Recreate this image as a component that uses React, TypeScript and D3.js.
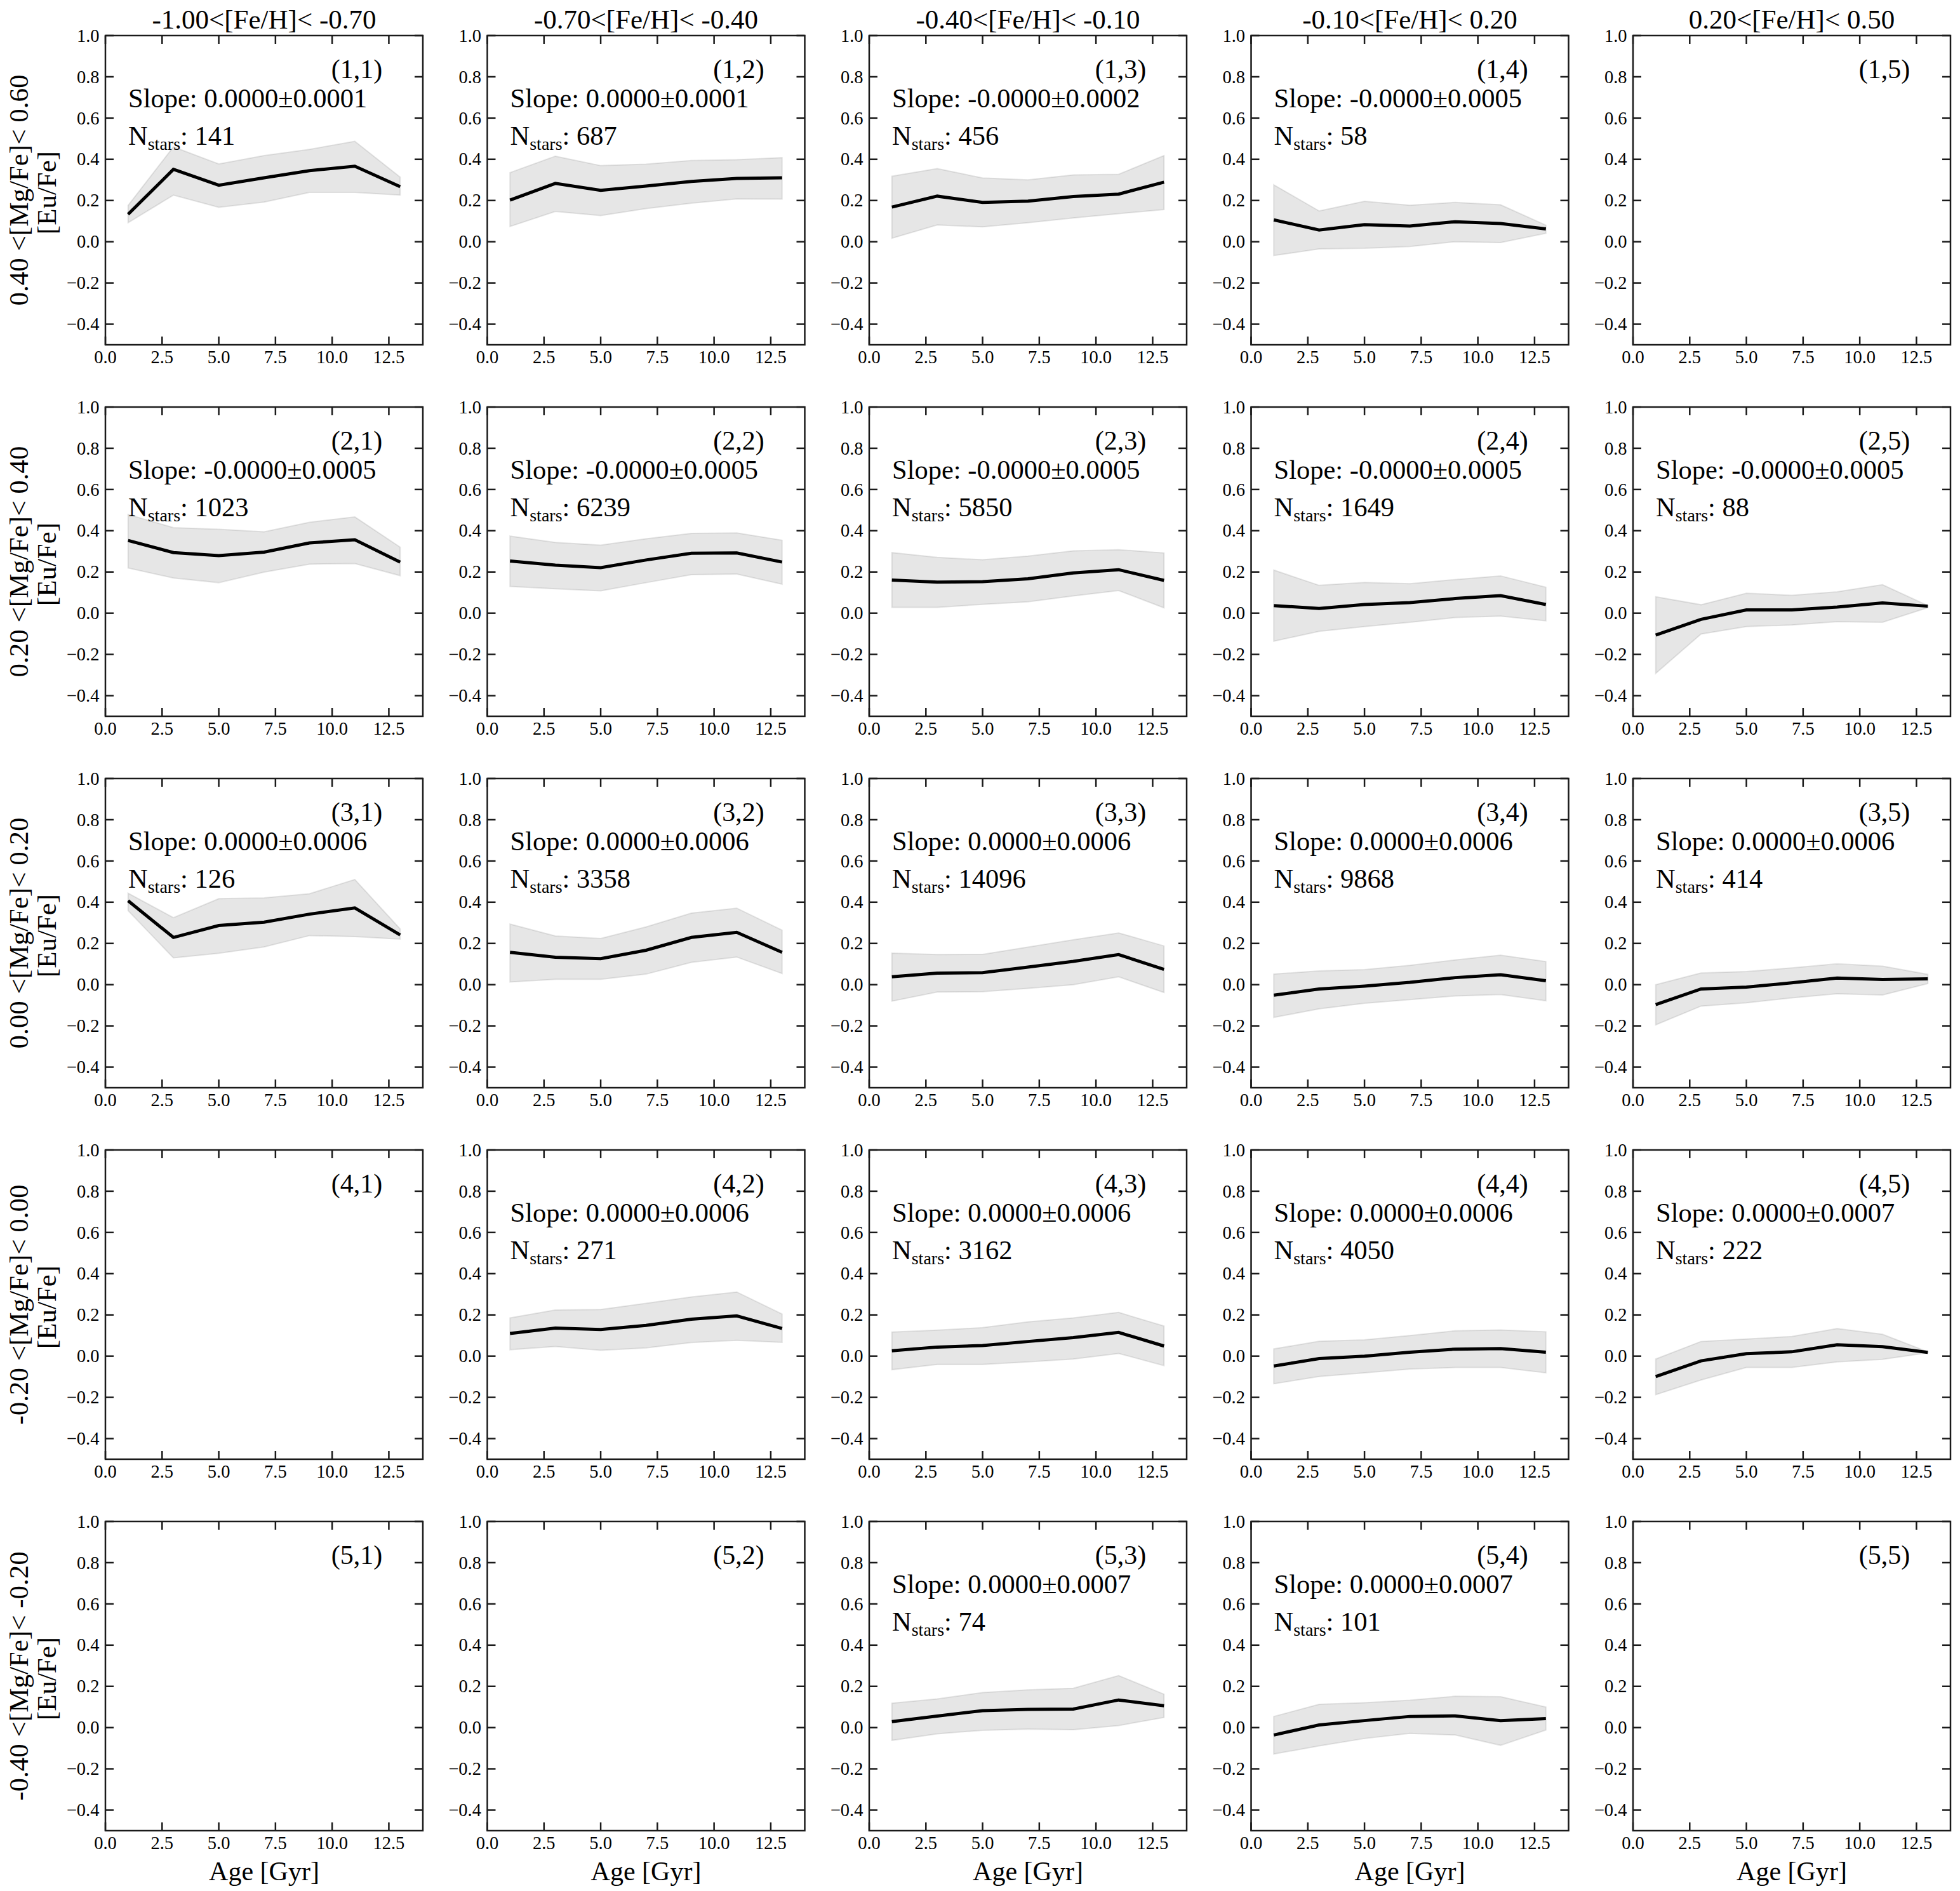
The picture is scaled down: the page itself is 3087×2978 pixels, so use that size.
import React from "react";
import * as d3 from "d3";

// bin centres (Gyr)
const ages = [1, 3, 5, 7, 9, 11, 13];
const xTicks = [0, 2.5, 5, 7.5, 10, 12.5];
const yTicks = [-0.4, -0.2, 0, 0.2, 0.4, 0.6, 0.8, 1.0];

const feTitles = [
  "-1.00<[Fe/H]< -0.70",
  "-0.70<[Fe/H]< -0.40",
  "-0.40<[Fe/H]< -0.10",
  "-0.10<[Fe/H]< 0.20",
  "0.20<[Fe/H]< 0.50",
];
const mgLabels = [
  "0.40 <[Mg/Fe]< 0.60",
  "0.20 <[Mg/Fe]< 0.40",
  "0.00 <[Mg/Fe]< 0.20",
  "-0.20 <[Mg/Fe]< 0.00",
  "-0.40 <[Mg/Fe]< -0.20",
];

// row 1
const med11 = [0.133, 0.351, 0.274, 0.31, 0.345, 0.366, 0.267];
const lo11 = [0.092, 0.226, 0.167, 0.192, 0.239, 0.239, 0.226];
const hi11 = [0.176, 0.46, 0.377, 0.418, 0.448, 0.487, 0.313];
const med12 = [0.202, 0.283, 0.249, 0.27, 0.292, 0.307, 0.31];
const lo12 = [0.074, 0.147, 0.127, 0.161, 0.187, 0.208, 0.207];
const hi12 = [0.335, 0.415, 0.369, 0.376, 0.394, 0.398, 0.408];
const med13 = [0.168, 0.221, 0.191, 0.197, 0.219, 0.231, 0.289];
const lo13 = [0.017, 0.081, 0.072, 0.092, 0.115, 0.136, 0.156];
const hi13 = [0.318, 0.355, 0.309, 0.3, 0.324, 0.327, 0.418];
const med14 = [0.106, 0.057, 0.083, 0.076, 0.097, 0.088, 0.062];
const lo14 = [-0.067, -0.035, -0.032, -0.023, 0.0, -0.004, 0.041];
const hi14 = [0.276, 0.149, 0.196, 0.177, 0.191, 0.179, 0.08];
// row 2
const med21 = [0.353, 0.294, 0.279, 0.296, 0.341, 0.356, 0.248];
const lo21 = [0.219, 0.171, 0.148, 0.199, 0.238, 0.241, 0.182];
const hi21 = [0.479, 0.415, 0.407, 0.395, 0.441, 0.467, 0.32];
const med22 = [0.253, 0.233, 0.221, 0.258, 0.291, 0.292, 0.248];
const lo22 = [0.13, 0.118, 0.108, 0.148, 0.187, 0.19, 0.141];
const hi22 = [0.374, 0.343, 0.33, 0.361, 0.387, 0.389, 0.354];
const med23 = [0.161, 0.151, 0.153, 0.167, 0.195, 0.211, 0.159];
const lo23 = [0.028, 0.028, 0.043, 0.055, 0.084, 0.11, 0.026];
const hi23 = [0.294, 0.271, 0.259, 0.277, 0.302, 0.308, 0.292];
const med24 = [0.037, 0.023, 0.042, 0.051, 0.071, 0.085, 0.042];
const lo24 = [-0.136, -0.088, -0.065, -0.044, -0.021, -0.014, -0.037];
const hi24 = [0.209, 0.135, 0.149, 0.143, 0.163, 0.181, 0.126];
const med25 = [-0.106, -0.03, 0.016, 0.016, 0.03, 0.05, 0.034];
const lo25 = [-0.292, -0.101, -0.065, -0.057, -0.041, -0.044, 0.027];
const hi25 = [0.08, 0.041, 0.097, 0.087, 0.104, 0.138, 0.037];
// row 3
const med31 = [0.407, 0.229, 0.287, 0.303, 0.342, 0.372, 0.241];
const lo31 = [0.359, 0.13, 0.152, 0.183, 0.238, 0.233, 0.221];
const hi31 = [0.444, 0.325, 0.417, 0.421, 0.441, 0.51, 0.27];
const med32 = [0.157, 0.133, 0.126, 0.167, 0.229, 0.254, 0.157];
const lo32 = [0.013, 0.026, 0.026, 0.051, 0.108, 0.134, 0.054];
const hi32 = [0.294, 0.236, 0.224, 0.28, 0.347, 0.371, 0.264];
const med33 = [0.038, 0.056, 0.058, 0.085, 0.113, 0.146, 0.074];
const lo33 = [-0.08, -0.036, -0.034, -0.018, 0.0, 0.038, -0.038];
const hi33 = [0.153, 0.146, 0.147, 0.182, 0.218, 0.251, 0.188];
const med34 = [-0.051, -0.021, -0.007, 0.011, 0.034, 0.048, 0.019];
const lo34 = [-0.159, -0.117, -0.09, -0.073, -0.055, -0.048, -0.078];
const hi34 = [0.051, 0.067, 0.073, 0.094, 0.12, 0.143, 0.112];
const med35 = [-0.097, -0.021, -0.012, 0.009, 0.032, 0.025, 0.028];
const lo35 = [-0.195, -0.104, -0.088, -0.064, -0.044, -0.05, 0.005];
const hi35 = [0.0, 0.057, 0.064, 0.081, 0.101, 0.09, 0.05];
// row 4
const med42 = [0.11, 0.136, 0.129, 0.149, 0.179, 0.195, 0.134];
const lo42 = [0.031, 0.047, 0.028, 0.04, 0.066, 0.077, 0.067];
const hi42 = [0.185, 0.224, 0.226, 0.256, 0.287, 0.311, 0.204];
const med43 = [0.026, 0.044, 0.051, 0.071, 0.09, 0.115, 0.049];
const lo43 = [-0.066, -0.04, -0.04, -0.028, -0.014, 0.013, -0.046];
const hi43 = [0.117, 0.126, 0.138, 0.166, 0.185, 0.212, 0.146];
const med44 = [-0.048, -0.012, 0.0, 0.019, 0.034, 0.037, 0.019];
const lo44 = [-0.134, -0.099, -0.081, -0.063, -0.055, -0.055, -0.081];
const hi44 = [0.035, 0.072, 0.079, 0.1, 0.123, 0.127, 0.118];
const med45 = [-0.099, -0.023, 0.012, 0.021, 0.055, 0.046, 0.018];
const lo45 = [-0.187, -0.116, -0.055, -0.055, -0.028, -0.016, 0.016];
const hi45 = [-0.014, 0.071, 0.083, 0.095, 0.134, 0.106, 0.021];
// row 5
const med53 = [0.029, 0.056, 0.082, 0.088, 0.09, 0.134, 0.106];
const lo53 = [-0.062, -0.03, -0.013, -0.007, -0.01, 0.01, 0.049];
const hi53 = [0.118, 0.139, 0.17, 0.183, 0.191, 0.252, 0.162];
const med54 = [-0.036, 0.013, 0.034, 0.054, 0.057, 0.034, 0.044];
const lo54 = [-0.128, -0.089, -0.053, -0.028, -0.036, -0.086, -0.012];
const hi54 = [0.054, 0.113, 0.121, 0.133, 0.152, 0.15, 0.1];

const slopes = [
  ["0.0000±0.0001", "0.0000±0.0001", "-0.0000±0.0002", "-0.0000±0.0005", null],
  ["-0.0000±0.0005", "-0.0000±0.0005", "-0.0000±0.0005", "-0.0000±0.0005", "-0.0000±0.0005"],
  ["0.0000±0.0006", "0.0000±0.0006", "0.0000±0.0006", "0.0000±0.0006", "0.0000±0.0006"],
  [null, "0.0000±0.0006", "0.0000±0.0006", "0.0000±0.0006", "0.0000±0.0007"],
  [null, null, "0.0000±0.0007", "0.0000±0.0007", null],
];
const nStars = [
  [141, 687, 456, 58, null],
  [1023, 6239, 5850, 1649, 88],
  [126, 3358, 14096, 9868, 414],
  [null, 271, 3162, 4050, 222],
  [null, null, 74, 101, null],
];

type Band = { med: number[]; lo: number[]; hi: number[] };
const bands: (Band | null)[][] = [
  [{ med: med11, lo: lo11, hi: hi11 }, { med: med12, lo: lo12, hi: hi12 }, { med: med13, lo: lo13, hi: hi13 }, { med: med14, lo: lo14, hi: hi14 }, null],
  [{ med: med21, lo: lo21, hi: hi21 }, { med: med22, lo: lo22, hi: hi22 }, { med: med23, lo: lo23, hi: hi23 }, { med: med24, lo: lo24, hi: hi24 }, { med: med25, lo: lo25, hi: hi25 }],
  [{ med: med31, lo: lo31, hi: hi31 }, { med: med32, lo: lo32, hi: hi32 }, { med: med33, lo: lo33, hi: hi33 }, { med: med34, lo: lo34, hi: hi34 }, { med: med35, lo: lo35, hi: hi35 }],
  [null, { med: med42, lo: lo42, hi: hi42 }, { med: med43, lo: lo43, hi: hi43 }, { med: med44, lo: lo44, hi: hi44 }, { med: med45, lo: lo45, hi: hi45 }],
  [null, null, { med: med53, lo: lo53, hi: hi53 }, { med: med54, lo: lo54, hi: hi54 }, null],
];

const W = 3087;
const H = 2978;
const left0 = 166;
const colStep = 601.5;
const top0 = 56;
const rowStep = 585;
const pw = 500;
const ph = 487;
const font = "'Liberation Serif', 'DejaVu Serif', serif";
const ink = "#1a1a1a";

const x = d3.scaleLinear().domain([0, 14]).range([0, pw]);
const y = d3.scaleLinear().domain([-0.5, 1.0]).range([ph, 0]);
const fmt = d3.format(".1f");
const tickFmt = (v: number) => fmt(v).replace("-", "\u2212");

const line = d3
  .line<number>()
  .x((_, i) => x(ages[i]))
  .y((d) => y(d));

const Panel: React.FC<{ r: number; c: number }> = ({ r, c }) => {
  const band = bands[r][c];
  const slope = slopes[r][c];
  const n = nStars[r][c];
  const area = band
    ? d3
        .area<number>()
        .x((_, i) => x(ages[i]))
        .y0((_, i) => y(band.lo[i]))
        .y1((_, i) => y(band.hi[i]))(band.med)
    : null;
  const tl = 13;
  return (
    <g transform={`translate(${left0 + c * colStep},${top0 + r * rowStep})`}>
      {band && (
        <>
          <path d={area ?? ""} fill="#808080" fillOpacity={0.2} stroke="#808080" strokeOpacity={0.2} strokeWidth={2} />
          <path d={line(band.med) ?? ""} fill="none" stroke="#000" strokeWidth={5} strokeLinejoin="miter" />
        </>
      )}
      {/* ticks, all inward */}
      {yTicks.map((t) => (
        <g key={`y${t}`}>
          <line x1={0} x2={tl} y1={y(t)} y2={y(t)} stroke={ink} strokeWidth={2.5} />
          <line x1={pw - tl} x2={pw} y1={y(t)} y2={y(t)} stroke={ink} strokeWidth={2.5} />
          <text x={-9.5} y={y(t)} dy="0.34em" textAnchor="end" fontSize={28.5} fontFamily={font} fill="#000">
            {tickFmt(t)}
          </text>
        </g>
      ))}
      {xTicks.map((t) => (
        <g key={`x${t}`}>
          <line x1={x(t)} x2={x(t)} y1={ph} y2={ph - tl} stroke={ink} strokeWidth={2.5} />
          <line x1={x(t)} x2={x(t)} y1={0} y2={tl} stroke={ink} strokeWidth={2.5} />
          <text x={x(t)} y={ph + 29} textAnchor="middle" fontSize={28.5} fontFamily={font} fill="#000">
            {fmt(t)}
          </text>
        </g>
      ))}
      <rect x={0} y={0} width={pw} height={ph} fill="none" stroke={ink} strokeWidth={2.5} />
      <text x={pw * 0.8 - 4} y={67} textAnchor="middle" fontSize={42} fontFamily={font} fill="#000">
        ({r + 1},{c + 1})
      </text>
      {slope && (
        <text x={36} y={113} fontSize={42.5} fontFamily={font} fill="#000">
          Slope: {slope}
        </text>
      )}
      {n !== null && (
        <text x={36} y={172} fontSize={42.5} fontFamily={font} fill="#000">
          N
          <tspan fontSize={28} dy={8}>
            stars
          </tspan>
          <tspan dy={-8}>: {n}</tspan>
        </text>
      )}
      {r === 0 && (
        <text x={pw / 2} y={-11} textAnchor="middle" fontSize={43} fontFamily={font} fill="#000">
          {feTitles[c]}
        </text>
      )}
      {r === 4 && (
        <text x={pw / 2} y={ph + 78} textAnchor="middle" fontSize={42} fontFamily={font} fill="#000">
          Age [Gyr]
        </text>
      )}
      {c === 0 && (
        <g transform={`translate(${-left0},${ph / 2})`}>
          <text transform="translate(44,0) rotate(-90)" textAnchor="middle" fontSize={43} fontFamily={font} fill="#000">
            {mgLabels[r]}
          </text>
          <text transform="translate(88,4) rotate(-90)" textAnchor="middle" fontSize={43} fontFamily={font} fill="#000">
            [Eu/Fe]
          </text>
        </g>
      )}
    </g>
  );
};

export default function App() {
  const cells: [number, number][] = [];
  for (let r = 0; r < 5; r++) for (let c = 0; c < 5; c++) cells.push([r, c]);
  return (
    <svg
      width={W}
      height={H}
      viewBox={`0 0 ${W} ${H}`}
      style={{ position: "absolute", left: 0, top: 0, background: "#fff" }}
    >
      <rect width={W} height={H} fill="#fff" />
      {cells.map(([r, c]) => (
        <Panel key={`${r}-${c}`} r={r} c={c} />
      ))}
    </svg>
  );
}
